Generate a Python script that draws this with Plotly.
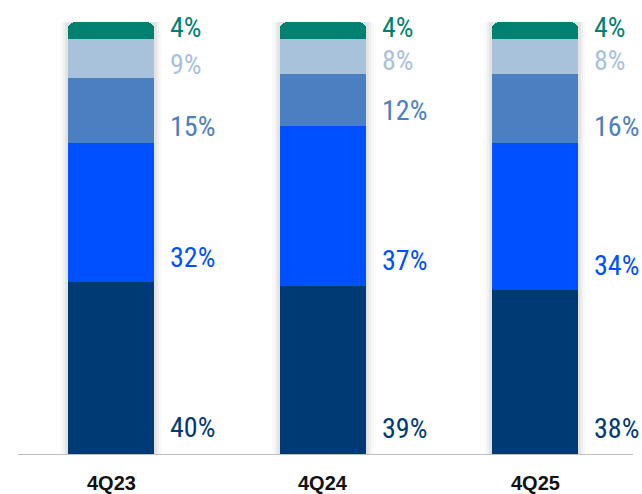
import plotly.graph_objects as go

categories = ["4Q23", "4Q24", "4Q25"]
seg1 = [40, 39, 38]
seg2 = [32, 37, 34]
seg3 = [15, 12, 16]
seg4 = [9, 8, 8]
seg5 = [4, 4, 4]
series = [seg1, seg2, seg3, seg4, seg5]
colors = ["#003A75", "#0050FF", "#4A80C2", "#A8C2DC", "#00816F"]
label_colors = ["#003A75", "#0050FF", "#4A80C2", "#A8C2DC", "#00816F"]

x_idx = list(range(len(categories)))
bar_w = 0.41

fig = go.Figure()
for vals, col in zip(series, colors):
    fig.add_trace(go.Bar(x=x_idx, y=vals, marker=dict(color=col, line=dict(width=0)),
                         width=bar_w, hoverinfo="skip"))

# soft shadow behind bars
for i in x_idx:
    for k, a in [(0.035, 0.025), (0.022, 0.035), (0.011, 0.05)]:
        fig.add_shape(type="rect", xref="x", yref="y", layer="below",
                      x0=i - bar_w / 2 - k, x1=i + bar_w / 2 + k, y0=0, y1=100 + k * 10,
                      fillcolor=f"rgba(0,0,0,{a})", line=dict(width=0))

# value labels (left-aligned just right of each bar)
for i in x_idx:
    base = 0
    for vals, col in zip(series, label_colors):
        fig.add_annotation(x=i + bar_w / 2, y=base + 0.1 * vals[i], text=f"{vals[i]}%",
                           showarrow=False, xanchor="left", yanchor="middle",
                           xshift=14, yshift=10,
                           font=dict(family="Roboto Condensed, DejaVu Sans Condensed, Liberation Sans Narrow, Arial Narrow, Roboto",
                                     size=28, color=col))
        base += vals[i]

# category labels
for i, c in enumerate(categories):
    fig.add_annotation(x=i, y=0, xref="x", yref="paper", text=f"<b>{c}</b>",
                       showarrow=False, yanchor="middle", yshift=-28,
                       font=dict(family="Liberation Sans", size=20, color="#111111"))

# baseline
fig.add_shape(type="line", xref="paper", yref="y", x0=0.028, x1=0.986, y0=0, y1=0,
              line=dict(color="#BDBDBD", width=2))

fig.update_layout(
    width=642, height=494,
    margin=dict(l=0, r=0, t=22, b=39),
    barmode="stack", barcornerradius=8,
    showlegend=False,
    plot_bgcolor="white", paper_bgcolor="white",
    xaxis=dict(range=[-111 / 212, 2 + 107 / 212], showticklabels=False, showgrid=False,
               zeroline=False, showline=False, fixedrange=True),
    yaxis=dict(range=[0, 100], showticklabels=False, showgrid=False, zeroline=False,
               showline=False, fixedrange=True),
)

fig.write_html("out.html", config={"displayModeBar": False},
               post_script="document.body.style.margin='0';document.body.style.overflow='hidden';")
